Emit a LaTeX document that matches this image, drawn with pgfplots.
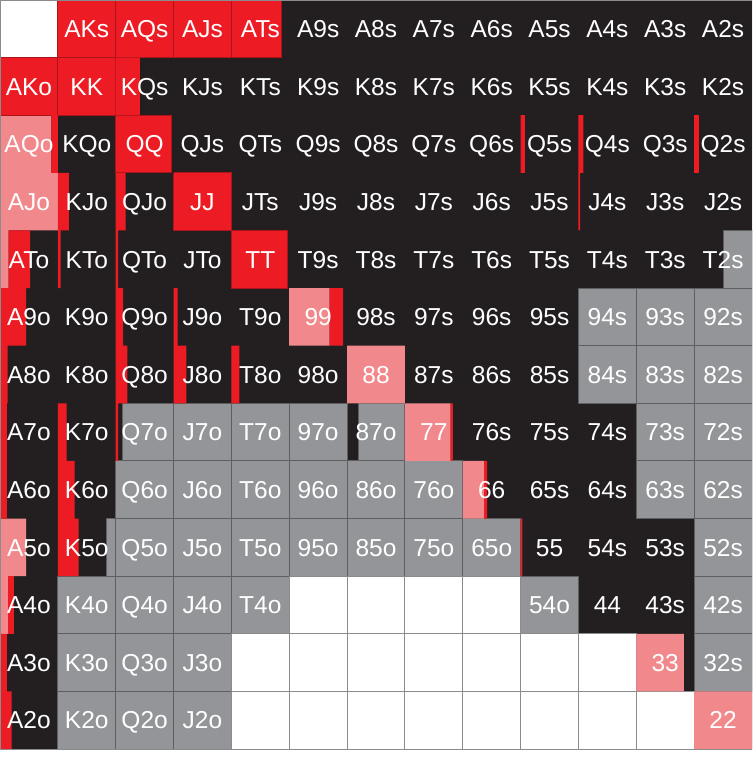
\documentclass[border=0pt]{standalone}
\usepackage{pgfplots}
\pgfplotsset{compat=1.18}
\usepackage{fontspec}
\setmainfont{Liberation Sans}
\definecolor{cred}{HTML}{ED1C24}
\definecolor{cpink}{HTML}{F1898C}
\definecolor{cblack}{HTML}{231F20}
\definecolor{cgray}{HTML}{939598}
\definecolor{cline}{HTML}{5E5F61}
\definecolor{cwline}{HTML}{8A8B8D}
\begin{document}
\begin{tikzpicture}
\begin{axis}[
  scale only axis, width=752pt, height=757pt,
  xmin=0, xmax=13, ymin=0, ymax=13.139, y dir=reverse,
  hide axis, clip=true,
  unbounded coords=jump,
]
% page background
\addplot[fill=white, draw=none, mark=none] coordinates {(0,0) (13,0) (13,13.139) (0,13.139)};
% black base (call)
\addplot[fill=cblack, draw=none, mark=none] coordinates {(0,0) (13,0) (13,13) (0,13)};
% gray cells (fold)
\addplot[fill=cgray, draw=cline, line width=1pt, mark=none] coordinates {
(12.5,4) (13,4) (13,5) (12.5,5) (12.5,4) (nan,nan)
(10,5) (11,5) (11,6) (10,6) (10,5) (nan,nan)
(11,5) (12,5) (12,6) (11,6) (11,5) (nan,nan)
(12,5) (13,5) (13,6) (12,6) (12,5) (nan,nan)
(10,6) (11,6) (11,7) (10,7) (10,6) (nan,nan)
(11,6) (12,6) (12,7) (11,7) (11,6) (nan,nan)
(12,6) (13,6) (13,7) (12,7) (12,6) (nan,nan)
(2.12,7) (3,7) (3,8) (2.12,8) (2.12,7) (nan,nan)
(3,7) (4,7) (4,8) (3,8) (3,7) (nan,nan)
(4,7) (5,7) (5,8) (4,8) (4,7) (nan,nan)
(5,7) (6,7) (6,8) (5,8) (5,7) (nan,nan)
(6.2,7) (7,7) (7,8) (6.2,8) (6.2,7) (nan,nan)
(11,7) (12,7) (12,8) (11,8) (11,7) (nan,nan)
(12,7) (13,7) (13,8) (12,8) (12,7) (nan,nan)
(2,8) (3,8) (3,9) (2,9) (2,8) (nan,nan)
(3,8) (4,8) (4,9) (3,9) (3,8) (nan,nan)
(4,8) (5,8) (5,9) (4,9) (4,8) (nan,nan)
(5,8) (6,8) (6,9) (5,9) (5,8) (nan,nan)
(6,8) (7,8) (7,9) (6,9) (6,8) (nan,nan)
(7,8) (8,8) (8,9) (7,9) (7,8) (nan,nan)
(11,8) (12,8) (12,9) (11,9) (11,8) (nan,nan)
(12,8) (13,8) (13,9) (12,9) (12,8) (nan,nan)
(1.84,9) (2,9) (2,10) (1.84,10) (1.84,9) (nan,nan)
(2,9) (3,9) (3,10) (2,10) (2,9) (nan,nan)
(3,9) (4,9) (4,10) (3,10) (3,9) (nan,nan)
(4,9) (5,9) (5,10) (4,10) (4,9) (nan,nan)
(5,9) (6,9) (6,10) (5,10) (5,9) (nan,nan)
(6,9) (7,9) (7,10) (6,10) (6,9) (nan,nan)
(7,9) (8,9) (8,10) (7,10) (7,9) (nan,nan)
(8,9) (9,9) (9,10) (8,10) (8,9) (nan,nan)
(12,9) (13,9) (13,10) (12,10) (12,9) (nan,nan)
(1,10) (2,10) (2,11) (1,11) (1,10) (nan,nan)
(2,10) (3,10) (3,11) (2,11) (2,10) (nan,nan)
(3,10) (4,10) (4,11) (3,11) (3,10) (nan,nan)
(4,10) (5,10) (5,11) (4,11) (4,10) (nan,nan)
(9,10) (10,10) (10,11) (9,11) (9,10) (nan,nan)
(12,10) (13,10) (13,11) (12,11) (12,10) (nan,nan)
(1,11) (2,11) (2,12) (1,12) (1,11) (nan,nan)
(2,11) (3,11) (3,12) (2,12) (2,11) (nan,nan)
(3,11) (4,11) (4,12) (3,12) (3,11) (nan,nan)
(12,11) (13,11) (13,12) (12,12) (12,11) (nan,nan)
(1,12) (2,12) (2,13) (1,13) (1,12) (nan,nan)
(2,12) (3,12) (3,13) (2,13) (2,12) (nan,nan)
(3,12) (4,12) (4,13) (3,13) (3,12)
};
% white cells (not dealt)
\addplot[fill=white, draw=cwline, line width=1pt, mark=none] coordinates {
(0,0) (1,0) (1,1) (0,1) (0,0) (nan,nan)
(5,10) (6,10) (6,11) (5,11) (5,10) (nan,nan)
(6,10) (7,10) (7,11) (6,11) (6,10) (nan,nan)
(7,10) (8,10) (8,11) (7,11) (7,10) (nan,nan)
(8,10) (9,10) (9,11) (8,11) (8,10) (nan,nan)
(4,11) (5,11) (5,12) (4,12) (4,11) (nan,nan)
(5,11) (6,11) (6,12) (5,12) (5,11) (nan,nan)
(6,11) (7,11) (7,12) (6,12) (6,11) (nan,nan)
(7,11) (8,11) (8,12) (7,12) (7,11) (nan,nan)
(8,11) (9,11) (9,12) (8,12) (8,11) (nan,nan)
(9,11) (10,11) (10,12) (9,12) (9,11) (nan,nan)
(10,11) (11,11) (11,12) (10,12) (10,11) (nan,nan)
(4,12) (5,12) (5,13) (4,13) (4,12) (nan,nan)
(5,12) (6,12) (6,13) (5,13) (5,12) (nan,nan)
(6,12) (7,12) (7,13) (6,13) (6,12) (nan,nan)
(7,12) (8,12) (8,13) (7,13) (7,12) (nan,nan)
(8,12) (9,12) (9,13) (8,13) (8,12) (nan,nan)
(9,12) (10,12) (10,13) (9,13) (9,12) (nan,nan)
(10,12) (11,12) (11,13) (10,13) (10,12) (nan,nan)
(11,12) (12,12) (12,13) (11,13) (11,12)
};
% pink parts
\addplot[fill=cpink, draw=none, mark=none] coordinates {
(0,2) (0.89,2) (0.89,3) (0,3) (nan,nan)
(0,3) (1,3) (1,4) (0,4) (nan,nan)
(0,4) (0.15,4) (0.15,5) (0,5) (nan,nan)
(5,5) (5.70,5) (5.70,6) (5,6) (nan,nan)
(6,6) (7,6) (7,7) (6,7) (nan,nan)
(7,7) (7.79,7) (7.79,8) (7,8) (nan,nan)
(8,8) (8.37,8) (8.37,9) (8,9) (nan,nan)
(0,9) (0.45,9) (0.45,10) (0,10) (nan,nan)
(0,10) (0.14,10) (0.14,11) (0,11) (nan,nan)
(11,11) (11.82,11) (11.82,12) (11,12) (nan,nan)
(12,12) (13,12) (13,13) (12,13)
};
% full red cells
\addplot[fill=cred, draw=cred!72!black, line width=0.8pt, mark=none] coordinates {
(1,0) (2,0) (2,1) (1,1) (1,0) (nan,nan)
(2,0) (3,0) (3,1) (2,1) (2,0) (nan,nan)
(3,0) (4,0) (4,1) (3,1) (3,0) (nan,nan)
(4,0) (4.87,0) (4.87,1) (4,1) (4,0) (nan,nan)
(0,1) (1,1) (1,2) (0,2) (0,1) (nan,nan)
(1,1) (2,1) (2,2) (1,2) (1,1) (nan,nan)
(2,2) (2.97,2) (2.97,3) (2,3) (2,2) (nan,nan)
(3,3) (4,3) (4,4) (3,4) (3,3) (nan,nan)
(4,4) (4.97,4) (4.97,5) (4,5) (4,4)
};
% red strips
\addplot[fill=cred, draw=none, mark=none] coordinates {
(2,1) (2.42,1) (2.42,2) (2,2) (nan,nan)
(0.89,2) (1,2) (1,3) (0.89,3) (nan,nan)
(9,2) (9.075,2) (9.075,3) (9,3) (nan,nan)
(10,2) (10.085,2) (10.085,3) (10,3) (nan,nan)
(12,2) (12.08,2) (12.08,3) (12,3) (nan,nan)
(1,3) (1.19,3) (1.19,4) (1,4) (nan,nan)
(2,3) (2.17,3) (2.17,4) (2,4) (nan,nan)
(10,3) (10.03,3) (10.03,4) (10,4) (nan,nan)
(0.15,4) (0.52,4) (0.52,5) (0.15,5) (nan,nan)
(1,4) (1.05,4) (1.05,5) (1,5) (nan,nan)
(2,4) (2.04,4) (2.04,5) (2,5) (nan,nan)
(0,5) (0.45,5) (0.45,6) (0,6) (nan,nan)
(2,5) (2.13,5) (2.13,6) (2,6) (nan,nan)
(3,5) (3.07,5) (3.07,6) (3,6) (nan,nan)
(5.70,5) (5.93,5) (5.93,6) (5.70,6) (nan,nan)
(0,6) (0.13,6) (0.13,7) (0,7) (nan,nan)
(2,6) (2.2,6) (2.2,7) (2,7) (nan,nan)
(3,6) (3.22,6) (3.22,7) (3,7) (nan,nan)
(4,6) (4.14,6) (4.14,7) (4,7) (nan,nan)
(0,7) (0.12,7) (0.12,8) (0,8) (nan,nan)
(1,7) (1.15,7) (1.15,8) (1,8) (nan,nan)
(2,7) (2.04,7) (2.04,8) (2,8) (nan,nan)
(7.79,7) (7.83,7) (7.83,8) (7.79,8) (nan,nan)
(0,8) (0.12,8) (0.12,9) (0,9) (nan,nan)
(1,8) (1.29,8) (1.29,9) (1,9) (nan,nan)
(8.37,8) (8.42,8) (8.42,9) (8.37,9) (nan,nan)
(1,9) (1.36,9) (1.36,10) (1,10) (nan,nan)
(9,9) (9.03,9) (9.03,10) (9,10) (nan,nan)
(0.14,10) (0.24,10) (0.24,11) (0.14,11) (nan,nan)
(0,11) (0.12,11) (0.12,12) (0,12) (nan,nan)
(0,12) (0.2,12) (0.2,13) (0,13)
};
% outer frame
\addplot[draw=cwline, line width=1pt, mark=none] coordinates {(0,0) (13,0) (13,13) (0,13) (0,0)};
% hand labels
\addplot[only marks, mark=*, mark size=0pt, mark options={draw=none, fill=none},
  point meta=explicit symbolic, nodes near coords=\pgfplotspointmeta,
  nodes near coords style={anchor=center, text=white, inner sep=0pt,
    font=\fontsize{24.5}{28}\selectfont, text height=17.5pt, text depth=0pt}]
coordinates {
(1.5,0.5)[AKs] (2.5,0.5)[AQs] (3.5,0.5)[AJs] (4.5,0.5)[ATs] (5.5,0.5)[A9s] (6.5,0.5)[A8s] (7.5,0.5)[A7s] (8.5,0.5)[A6s] (9.5,0.5)[A5s] (10.5,0.5)[A4s] (11.5,0.5)[A3s] (12.5,0.5)[A2s]
(0.5,1.5)[AKo] (1.5,1.5)[KK] (2.5,1.5)[KQs] (3.5,1.5)[KJs] (4.5,1.5)[KTs] (5.5,1.5)[K9s] (6.5,1.5)[K8s] (7.5,1.5)[K7s] (8.5,1.5)[K6s] (9.5,1.5)[K5s] (10.5,1.5)[K4s] (11.5,1.5)[K3s] (12.5,1.5)[K2s]
(0.5,2.5)[AQo] (1.5,2.5)[KQo] (2.5,2.5)[QQ] (3.5,2.5)[QJs] (4.5,2.5)[QTs] (5.5,2.5)[Q9s] (6.5,2.5)[Q8s] (7.5,2.5)[Q7s] (8.5,2.5)[Q6s] (9.5,2.5)[Q5s] (10.5,2.5)[Q4s] (11.5,2.5)[Q3s] (12.5,2.5)[Q2s]
(0.5,3.5)[AJo] (1.5,3.5)[KJo] (2.5,3.5)[QJo] (3.5,3.5)[JJ] (4.5,3.5)[JTs] (5.5,3.5)[J9s] (6.5,3.5)[J8s] (7.5,3.5)[J7s] (8.5,3.5)[J6s] (9.5,3.5)[J5s] (10.5,3.5)[J4s] (11.5,3.5)[J3s] (12.5,3.5)[J2s]
(0.5,4.5)[ATo] (1.5,4.5)[KTo] (2.5,4.5)[QTo] (3.5,4.5)[JTo] (4.5,4.5)[TT] (5.5,4.5)[T9s] (6.5,4.5)[T8s] (7.5,4.5)[T7s] (8.5,4.5)[T6s] (9.5,4.5)[T5s] (10.5,4.5)[T4s] (11.5,4.5)[T3s] (12.5,4.5)[T2s]
(0.5,5.5)[A9o] (1.5,5.5)[K9o] (2.5,5.5)[Q9o] (3.5,5.5)[J9o] (4.5,5.5)[T9o] (5.5,5.5)[99] (6.5,5.5)[98s] (7.5,5.5)[97s] (8.5,5.5)[96s] (9.5,5.5)[95s] (10.5,5.5)[94s] (11.5,5.5)[93s] (12.5,5.5)[92s]
(0.5,6.5)[A8o] (1.5,6.5)[K8o] (2.5,6.5)[Q8o] (3.5,6.5)[J8o] (4.5,6.5)[T8o] (5.5,6.5)[98o] (6.5,6.5)[88] (7.5,6.5)[87s] (8.5,6.5)[86s] (9.5,6.5)[85s] (10.5,6.5)[84s] (11.5,6.5)[83s] (12.5,6.5)[82s]
(0.5,7.5)[A7o] (1.5,7.5)[K7o] (2.5,7.5)[Q7o] (3.5,7.5)[J7o] (4.5,7.5)[T7o] (5.5,7.5)[97o] (6.5,7.5)[87o] (7.5,7.5)[77] (8.5,7.5)[76s] (9.5,7.5)[75s] (10.5,7.5)[74s] (11.5,7.5)[73s] (12.5,7.5)[72s]
(0.5,8.5)[A6o] (1.5,8.5)[K6o] (2.5,8.5)[Q6o] (3.5,8.5)[J6o] (4.5,8.5)[T6o] (5.5,8.5)[96o] (6.5,8.5)[86o] (7.5,8.5)[76o] (8.5,8.5)[66] (9.5,8.5)[65s] (10.5,8.5)[64s] (11.5,8.5)[63s] (12.5,8.5)[62s]
(0.5,9.5)[A5o] (1.5,9.5)[K5o] (2.5,9.5)[Q5o] (3.5,9.5)[J5o] (4.5,9.5)[T5o] (5.5,9.5)[95o] (6.5,9.5)[85o] (7.5,9.5)[75o] (8.5,9.5)[65o] (9.5,9.5)[55] (10.5,9.5)[54s] (11.5,9.5)[53s] (12.5,9.5)[52s]
(0.5,10.5)[A4o] (1.5,10.5)[K4o] (2.5,10.5)[Q4o] (3.5,10.5)[J4o] (4.5,10.5)[T4o] (9.5,10.5)[54o] (10.5,10.5)[44] (11.5,10.5)[43s] (12.5,10.5)[42s]
(0.5,11.5)[A3o] (1.5,11.5)[K3o] (2.5,11.5)[Q3o] (3.5,11.5)[J3o] (11.5,11.5)[33] (12.5,11.5)[32s]
(0.5,12.5)[A2o] (1.5,12.5)[K2o] (2.5,12.5)[Q2o] (3.5,12.5)[J2o] (12.5,12.5)[22]
};
\end{axis}
\end{tikzpicture}
\end{document}
